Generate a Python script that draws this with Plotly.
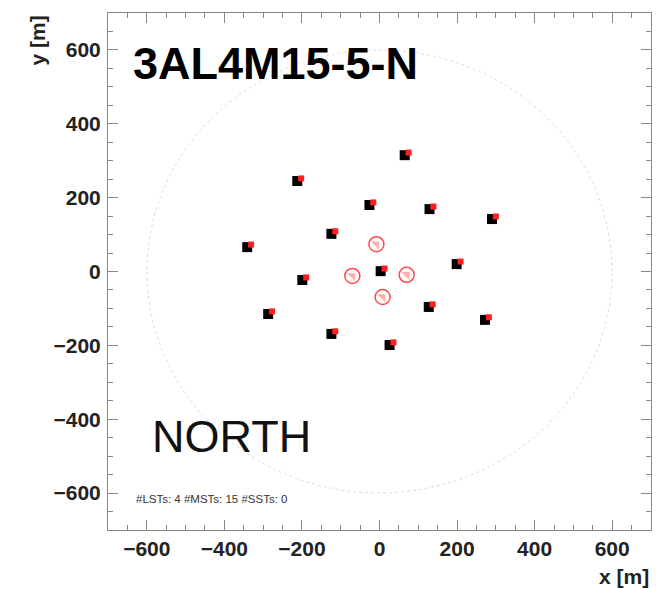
import numpy as np
import plotly.graph_objects as go

# Array layout name and telescope counts
layout_name = "3AL4M15-5-N"
site_name = "NORTH"
n_lst, n_mst, n_sst = 4, 15, 0

# Medium-size telescope positions [m]
mst_x = [65, -212, -26, 129, 290, -124, -341, 199, 3, -199, 127, -287, 272, -124, 26]
mst_y = [315, 245, 180, 169, 142, 102, 66, 20, 1, -23, -96, -115, -131, -169, -199]

# Large-size telescope positions [m]
lst_x = [-8, -70, 70, 8]
lst_y = [74, -12, -9, -69]

# Reference circle radius [m]
circle_r = 600

# Small marker shift used for the red pointing marks [m]
shift_x, shift_y = 10, 7

FONT = "Liberation Sans, Arial, Helvetica, sans-serif"

fig = go.Figure()

# dotted reference circle
theta = np.linspace(0, 2 * np.pi, 361)
fig.add_trace(go.Scatter(
    x=circle_r * np.cos(theta), y=circle_r * np.sin(theta),
    mode="lines", line=dict(color="#dcdcdc", width=1, dash="dot"),
    hoverinfo="skip", showlegend=False))

# MSTs: black squares with a red mark
fig.add_trace(go.Scatter(
    x=mst_x, y=mst_y, mode="markers",
    marker=dict(symbol="square", size=10, color="black"),
    showlegend=False))
fig.add_trace(go.Scatter(
    x=[v + shift_x for v in mst_x], y=[v + shift_y for v in mst_y], mode="markers",
    marker=dict(symbol="square", size=6, color="#ff1f1f"),
    showlegend=False))

# LSTs: open red circles with a wedge
fig.add_trace(go.Scatter(
    x=lst_x, y=lst_y, mode="markers",
    marker=dict(symbol="triangle-ne", size=9, color="rgba(255,110,110,0.55)"),
    showlegend=False))
fig.add_trace(go.Scatter(
    x=lst_x, y=lst_y, mode="markers",
    marker=dict(symbol="circle-open", size=15, color="#ff4a4a", line=dict(width=1.5)),
    showlegend=False))

axis_common = dict(
    range=[-700, 700], dtick=200, tick0=0,
    ticks="inside", ticklen=10, tickwidth=1, tickcolor="#888",
    showline=True, linecolor="#888", linewidth=1, mirror="allticks",
    showgrid=False, zeroline=False,
    minor=dict(dtick=50, ticks="inside", ticklen=5, tickcolor="#888", tickwidth=1),
    tickfont=dict(family=FONT, size=21, color="#222", weight="bold"),
)

fig.update_xaxes(ticklabelstandoff=0, **axis_common)
fig.update_yaxes(ticklabelstandoff=2, **axis_common)

fig.update_layout(
    width=657, height=589,
    margin=dict(l=108, r=6, t=13, b=59),
    paper_bgcolor="white", plot_bgcolor="white",
    showlegend=False,
    annotations=[
        dict(text=layout_name, xref="paper", yref="paper", x=0.043, y=0.955,
             xanchor="left", yanchor="top", showarrow=False,
             font=dict(family=FONT, size=45, color="black", weight="bold")),
        dict(text=site_name, xref="paper", yref="paper", x=0.077, y=0.18,
             xanchor="left", yanchor="middle", showarrow=False,
             font=dict(family=FONT, size=45, color="#111")),
        dict(text=f"#LSTs: {n_lst} #MSTs: {n_mst} #SSTs: {n_sst}",
             xref="paper", yref="paper", x=0.048, y=0.06,
             xanchor="left", yanchor="middle", showarrow=False,
             font=dict(family=FONT, size=11.5, color="#333")),
        dict(text="x [m]", xref="paper", yref="paper", x=1.0, y=-0.09,
             xanchor="right", yanchor="middle", showarrow=False,
             font=dict(family=FONT, size=21, color="#222", weight="bold")),
        dict(text="y [m]", xref="paper", yref="paper", x=-0.13, y=1.0,
             xanchor="center", yanchor="top", showarrow=False, textangle=-90,
             font=dict(family=FONT, size=21, color="#222", weight="bold")),
    ],
)

fig.write_html("out.html")
